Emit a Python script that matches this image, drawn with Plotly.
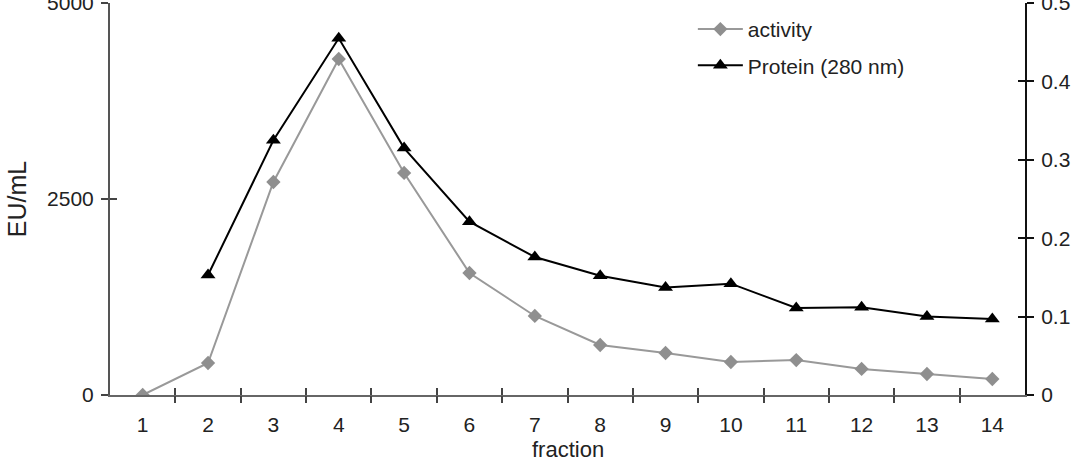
import plotly.graph_objects as go

fractions = [1, 2, 3, 4, 5, 6, 7, 8, 9, 10, 11, 12, 13, 14]
activity = [0, 408, 2717, 4286, 2832, 1556, 1008, 638, 536, 421, 446, 332, 268, 204]
protein_fractions = [2, 3, 4, 5, 6, 7, 8, 9, 10, 11, 12, 13, 14]
protein = [0.153, 0.325, 0.455, 0.315, 0.221, 0.176, 0.152, 0.137, 0.142, 0.111, 0.112, 0.100, 0.097]
left_ticks = [0, 2500, 5000]
right_ticks = [0, 0.1, 0.2, 0.3, 0.4, 0.5]
right_labels = ["0", "0.1", "0.2", "0.3", "0.4", "0.5"]

FONT = "Liberation Sans, Arial, sans-serif"
FS = 21
fig = go.Figure()
fig.add_trace(go.Scatter(x=fractions, y=activity, name="activity", mode="lines+markers",
                         line=dict(color="#999999", width=2),
                         marker=dict(symbol="diamond", size=11, color="#8f8f8f"),
                         legendgroup="a", xaxis="x", yaxis="y"))
fig.add_trace(go.Scatter(x=protein_fractions, y=protein, name="Protein (280 nm)", mode="lines+markers",
                         line=dict(color="#000000", width=2),
                         marker=dict(symbol="triangle-up", size=13, color="#000000"),
                         legendgroup="b", xaxis="x", yaxis="y2"))
# invisible helper traces so the overlay tick axes are drawn
for xa, ya in [("x2", "y3"), ("x3", "y4")]:
    fig.add_trace(go.Scatter(x=[fractions[0]], y=[0], mode="markers", marker=dict(opacity=0),
                             showlegend=False, hoverinfo="skip", xaxis=xa, yaxis=ya))

xr = [0.5, 14.5]
bound = [i + 0.5 for i in fractions[:-1]]
common = dict(showgrid=False, zeroline=False, automargin=False)
fig.update_layout(
    width=1080, height=462,
    margin=dict(l=110, r=55, t=3, b=67),
    paper_bgcolor="white", plot_bgcolor="white",
    font=dict(family=FONT, size=FS, color="#222222"),
    showlegend=True,
    legend=dict(x=0.637, y=0.985, xanchor="left", yanchor="top", bgcolor="rgba(0,0,0,0)",
                font=dict(size=FS), tracegroupgap=6, traceorder="grouped", itemwidth=45),
    xaxis=dict(range=xr, tickvals=fractions, ticktext=[str(f) for f in fractions], ticks="",
               showline=True, linecolor="#666666", linewidth=2,
               ticklabelstandoff=10, **common),
    xaxis2=dict(range=xr, overlaying="x", anchor="y", side="bottom", tickvals=bound, ticks="outside",
                ticklen=7, tickwidth=1.5, tickcolor="#444444", showticklabels=False,
                showline=False, **common),
    xaxis3=dict(range=xr, overlaying="x", anchor="y", side="bottom", tickvals=bound, ticks="inside",
                ticklen=7, tickwidth=1.5, tickcolor="#444444", showticklabels=False,
                showline=False, **common),
    yaxis=dict(range=[0, 5000], tickvals=left_ticks, ticks="outside", ticklen=7, tickwidth=1.5,
               tickcolor="#444444", showline=True, linecolor="#555555", linewidth=2,
               ticklabeloverflow="allow", ticklabelstandoff=3,
               title=dict(text="EU/mL", standoff=13), **common),
    yaxis3=dict(range=[0, 5000], overlaying="y", anchor="x", side="left", tickvals=left_ticks,
                ticks="inside", ticklen=7, tickwidth=1.5, tickcolor="#444444", showticklabels=False,
                showline=False, **common),
    yaxis2=dict(range=[0, 0.5], overlaying="y", anchor="x", side="right", tickvals=right_ticks,
                ticktext=right_labels, ticklabeloverflow="allow", ticklabelstandoff=3,
                ticks="outside", ticklen=7, tickwidth=1.5, tickcolor="#111111", showline=True,
                linecolor="#111111", linewidth=2, **common),
    yaxis4=dict(range=[0, 0.5], overlaying="y", anchor="x", side="right", tickvals=right_ticks,
                ticks="inside", ticklen=7, tickwidth=1.5, tickcolor="#111111", showticklabels=False,
                showline=False, **common),
    annotations=[dict(text="fraction", x=0.5, y=-0.138, xref="paper", yref="paper",
                      xanchor="center", yanchor="middle", showarrow=False,
                      font=dict(family=FONT, size=22, color="#222222"))],
)
fig.write_html("out.html", config={"displayModeBar": False},
               post_script="document.body.style.margin='0';document.body.style.overflow='hidden';")
